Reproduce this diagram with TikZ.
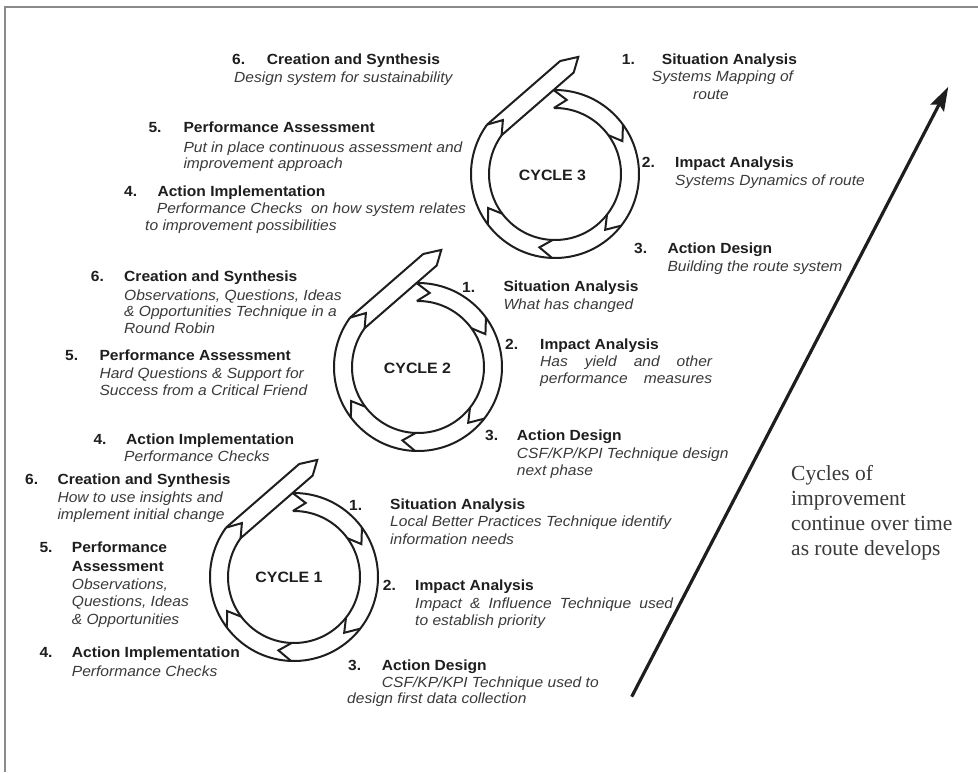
\documentclass[tikz,border=0pt]{standalone}
\usepackage{fontspec}
\setmainfont{Liberation Sans}[FakeStretch=1.06]
\newfontfamily\notefont{Liberation Serif}
\usetikzlibrary{arrows.meta}
\definecolor{ink}{HTML}{1E1E1E}
\definecolor{softink}{HTML}{3A3A3A}
\definecolor{framegray}{HTML}{8A8A8A}
\tikzset{
  head/.style={anchor=base west, inner sep=0pt, font=\fontsize{14.7}{17}\selectfont\bfseries, text=ink},
  desc/.style={anchor=base west, inner sep=0pt, font=\fontsize{14.7}{17}\selectfont\itshape, text=softink},
  ring/.style={line width=2pt, draw=ink, line join=miter},
  cyclename/.style={inner sep=0pt, font=\fontsize{15}{17}\selectfont\bfseries, text=ink},
  note/.style={anchor=base west, inner sep=0pt, font=\notefont\fontsize{21.5}{25}\selectfont, text=softink},
}
% one improvement cycle: a ring of six chevron segments whose last segment
% leaves the ring as a straight pointed strip
\newcommand\cyclering[2]{%
  \begin{scope}[shift={(#1,#2)}, yscale=-1]
    \draw[ring] (91:84) arc[start angle=91, end angle=-216, radius=84];
    \draw[ring] (91:66) arc[start angle=91, end angle=-216, radius=66];
    \foreach \b in {91,36,-38,-92,-143,144}
      \draw[ring] (\b:84) -- ({\b-10}:75) -- (\b:66);
    \draw[ring] (144:84) -- (5.2,113) -- (23.3,117.1) -- (18.7,101.5) -- (144:66);
  \end{scope}}
\begin{document}
\begin{tikzpicture}[x=1pt, y=-1pt]
\useasboundingbox (0,0) rectangle (978,772);
\fill[white] (0,0) rectangle (978,772);
\draw[framegray, line width=1.6pt] (5,772) -- (5,7) -- (978,7);

% rings
\cyclering{555}{174}
\cyclering{418}{367}
\cyclering{294}{577}
\node[cyclename] (cyc3) at (552.5,175) {CYCLE 3};
\node[cyclename] (cyc2) at (417.5,368) {CYCLE 2};
\node[cyclename] (cyc1) at (289,577) {CYCLE 1};

% cycle 3 labels
\node[head] (c3n6) at (232,64) {6.};
\node[head] (c3h6) at (266.7,64) {Creation and Synthesis};
\node[desc] (c3d6) at (234,82.7) {Design system for sustainability};
\node[head] (c3n5) at (148.3,132.7) {5.};
\node[head] (c3h5) at (183.3,132.7) {Performance Assessment};
\node[desc] (c3d5a) at (183.3,152.7) {Put in place continuous assessment and};
\node[desc] (c3d5b) at (183.3,168.3) {improvement approach};
\node[head] (c3n4) at (124,196) {4.};
\node[head] (c3h4) at (157.3,196) {Action Implementation};
\node[desc] (c3d4a) at (156.7,213.3) {Performance Checks\ \ on how system relates};
\node[desc] (c3d4b) at (145,230.7) {to improvement possibilities};
\node[head] (c3n1) at (621.7,64) {1.};
\node[head] (c3h1) at (661.7,64) {Situation Analysis};
\node[desc] (c3d1a) at (651.7,81) {Systems Mapping of};
\node[desc] (c3d1b) at (693,99) {route};
\node[head] (c3n2) at (641.7,167) {2.};
\node[head] (c3h2) at (675,167) {Impact Analysis};
\node[desc] (c3d2) at (675,185) {Systems Dynamics of route};
\node[head] (c3n3) at (634,253.3) {3.};
\node[head] (c3h3) at (667.3,253.3) {Action Design};
\node[desc] (c3d3) at (667.3,271.7) {Building the route system};

% cycle 2 labels
\node[head] (c2n6) at (90.7,281) {6.};
\node[head] (c2h6) at (124,281) {Creation and Synthesis};
\node[desc] (c2d6a) at (124,300) {Observations, Questions, Ideas};
\node[desc] (c2d6b) at (124,316) {\& Opportunities Technique in a};
\node[desc] (c2d6c) at (124,333) {Round Robin};
\node[head] (c2n5) at (65,360) {5.};
\node[head] (c2h5) at (99.3,360) {Performance Assessment};
\node[desc] (c2d5a) at (99.3,378.3) {Hard Questions \& Support for};
\node[desc] (c2d5b) at (99.3,395.7) {Success from a Critical Friend};
\node[head] (c2n4) at (93.3,444) {4.};
\node[head] (c2h4) at (126,444) {Action Implementation};
\node[desc] (c2d4) at (124,461.5) {Performance Checks};
\node[head] (c2n1) at (462,292) {1.};
\node[head] (c2h1) at (503.3,291.7) {Situation Analysis};
\node[desc] (c2d1) at (503.3,309.3) {What has changed};
\node[head] (c2n2) at (505,349) {2.};
\node[head] (c2h2) at (540,349) {Impact Analysis};
\node[desc] (c2d2a) at (540,366.7) {\makebox[172pt][s]{Has yield and other}};
\node[desc] (c2d2b) at (540,383.3) {\makebox[172pt][s]{performance measures}};
\node[head] (c2n3) at (485,440) {3.};
\node[head] (c2h3) at (516.7,440) {Action Design};
\node[desc] (c2d3a) at (516.7,458.3) {CSF/KP/KPI Technique design};
\node[desc] (c2d3b) at (516.7,475.7) {next phase};

% cycle 1 labels
\node[head] (c1n6) at (25,484) {6.};
\node[head] (c1h6) at (57.3,484) {Creation and Synthesis};
\node[desc] (c1d6a) at (57.3,502.7) {How to use insights and};
\node[desc] (c1d6b) at (57.3,519) {implement initial change};
\node[head] (c1n5) at (39.3,552.7) {5.};
\node[head] (c1h5a) at (71.7,552.7) {Performance};
\node[head] (c1h5b) at (71.7,571.7) {Assessment};
\node[desc] (c1d5a) at (71.7,589.3) {Observations,};
\node[desc] (c1d5b) at (71.7,606.7) {Questions, Ideas};
\node[desc] (c1d5c) at (71.7,624) {\& Opportunities};
\node[head] (c1n4) at (39.3,657.3) {4.};
\node[head] (c1h4) at (71.7,657.3) {Action Implementation};
\node[desc] (c1d4) at (71.7,676) {Performance Checks};
\node[head] (c1n1) at (349,510) {1.};
\node[head] (c1h1) at (390,509.3) {Situation Analysis};
\node[desc] (c1d1a) at (390,526.7) {Local Better Practices Technique identify};
\node[desc] (c1d1b) at (390,544) {information needs};
\node[head] (c1n2) at (382.7,590) {2.};
\node[head] (c1h2) at (415,590) {Impact Analysis};
\node[desc] (c1d2a) at (415,608.3) {\makebox[258pt][s]{Impact \& Influence Technique used}};
\node[desc] (c1d2b) at (415,625) {to establish priority};
\node[head] (c1n3) at (348,670.7) {3.};
\node[head] (c1h3) at (381.7,670.7) {Action Design};
\node[desc] (c1d3a) at (381.7,687) {CSF/KP/KPI Technique used to};
\node[desc] (c1d3b) at (347,703.5) {design first data collection};

% time arrow and its note
\coordinate (timefoot) at (631.7,696.7);
\coordinate (timetip) at (948.3,86.7);
\draw[ink, line width=3.2pt, -{Stealth[length=24pt, width=15pt, inset=4pt]}] (timefoot) -- (timetip);
\node[note] (note1) at (791,480) {Cycles of};
\node[note] (note2) at (791,505) {improvement};
\node[note] (note3) at (791,530) {continue over time};
\node[note] (note4) at (791,555) {as route develops};
\end{tikzpicture}
\end{document}
